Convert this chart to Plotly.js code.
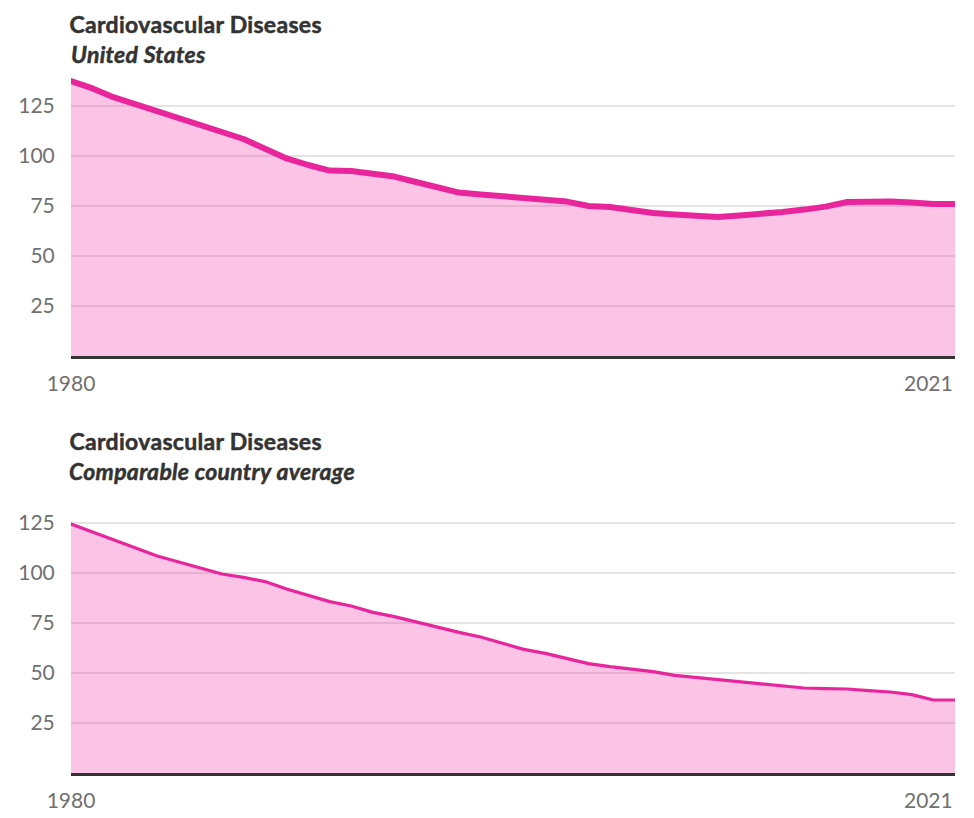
<!DOCTYPE html>
<html>
<head>
<meta charset="utf-8">
<script src="https://cdn.plot.ly/plotly-3.0.1.min.js"></script>
<style>
html,body{margin:0;padding:0;background:#fff;}
#chart{width:974px;height:818px;}
.scatterlayer path.js-line{stroke-linecap:round;stroke-linejoin:round;}
.annotation[data-index="0"] text,.annotation[data-index="1"] text,
.annotation[data-index="2"] text,.annotation[data-index="3"] text{stroke:#333;stroke-width:0.5px;letter-spacing:0.3px;}
</style>
</head>
<body>
<div id="chart"></div>
<script>
const years = [];
for (let y = 1980; y <= 2021; y++) years.push(y);

const usValues = [137.5, 133.8, 129.3, 125.7, 122.3, 118.8, 115.3, 112.0, 108.5, 103.8,
  98.8, 95.5, 92.7, 92.5, 91.0, 89.7, 87.0, 84.2, 81.7, 80.8,
  79.8, 78.6, 78.0, 77.2, 75.0, 74.5, 73.0, 71.5, 70.8, 70.3,
  69.5, 70.3, 71.0, 72.0, 73.2, 74.7, 77.0, 77.3, 77.2, 76.8,
  76.0, 76.0];

const compValues = [124.5, 120.7, 116.5, 112.5, 108.5, 105.5, 102.5, 99.5, 97.8, 95.7,
  92.0, 89.0, 85.7, 83.5, 80.3, 78.2, 75.5, 72.8, 70.3, 68.0,
  64.8, 61.8, 59.8, 57.3, 54.7, 53.2, 51.8, 50.7, 48.8, 47.8,
  46.7, 45.5, 44.5, 43.7, 42.5, 42.2, 42.0, 41.2, 40.5, 39.2,
  36.5, 36.5];

const yTicks = [25, 50, 75, 100, 125];
const chartTitle = "Cardiovascular Diseases";
const subTitles = ["United States", "Comparable country average"];
const xLabels = ["1980", "2021"];

const lineColor = "#e8259b";
const fillColor = "rgba(240,40,160,0.28)";
const font = "Lato, 'Open Sans', sans-serif";
const tickColor = "#707070";
const H = 818;
const py = px => (H - px) / H;

const traces = [
  {x: years, y: usValues, type: "scatter", mode: "lines", fill: "tozeroy",
   fillcolor: fillColor, line: {color: lineColor, width: 6}, xaxis: "x", yaxis: "y", hoverinfo: "x+y"},
  {x: years, y: compValues, type: "scatter", mode: "lines", fill: "tozeroy",
   fillcolor: fillColor, line: {color: lineColor, width: 3.2}, xaxis: "x2", yaxis: "y2", hoverinfo: "x+y"}
];

function xAxis(anchor) {
  return {anchor: anchor, domain: [71/974, 955/974], range: [1980, 2021],
    showgrid: false, zeroline: false, showline: true, linecolor: "#333", linewidth: 2.5,
    tickvals: [1980], ticktext: [xLabels[0]], ticks: "outside", ticklen: 7,
    tickcolor: "rgba(0,0,0,0)", tickfont: {family: font, size: 21, color: tickColor}, fixedrange: true};
}
function yAxis(anchor, range, dom) {
  return {anchor: anchor, domain: dom, range: range, tickvals: yTicks,
    showgrid: true, gridcolor: "#e4e4e4", gridwidth: 1.5, zeroline: false, showline: false,
    ticks: "outside", ticklen: 11, tickcolor: "rgba(0,0,0,0)",
    tickfont: {family: font, size: 21, color: tickColor}, fixedrange: true};
}

const tFont = {family: font, size: 23, color: "#333"};
const annotations = [
  {text: "<b>" + chartTitle + "</b>", x: 71/974, y: py(24), xref: "paper", yref: "paper", xanchor: "left", yanchor: "middle", showarrow: false, font: tFont},
  {text: "<b><i>" + subTitles[0] + "</i></b>", x: 71/974, y: py(54), xref: "paper", yref: "paper", xanchor: "left", yanchor: "middle", showarrow: false, font: tFont},
  {text: "<b>" + chartTitle + "</b>", x: 71/974, y: py(441), xref: "paper", yref: "paper", xanchor: "left", yanchor: "middle", showarrow: false, font: tFont},
  {text: "<b><i>" + subTitles[1] + "</i></b>", x: 71/974, y: py(471), xref: "paper", yref: "paper", xanchor: "left", yanchor: "middle", showarrow: false, font: tFont},
  {text: xLabels[1], x: 2021, xref: "x", y: py(382), yref: "paper", xanchor: "right", yanchor: "middle", showarrow: false, font: {family: font, size: 21, color: tickColor}},
  {text: xLabels[1], x: 2021, xref: "x2", y: py(799), yref: "paper", xanchor: "right", yanchor: "middle", showarrow: false, font: {family: font, size: 21, color: tickColor}}
];

const layout = {
  width: 974, height: 818,
  margin: {l: 0, r: 0, t: 0, b: 0},
  paper_bgcolor: "#fff", plot_bgcolor: "#fff",
  showlegend: false,
  xaxis: xAxis("y"),
  yaxis: yAxis("x", [0, 140], [py(356), py(76)]),
  xaxis2: xAxis("y2"),
  yaxis2: yAxis("x2", [0, 135], [py(773), py(503)]),
  annotations: annotations
};

Plotly.newPlot("chart", traces, layout, {displayModeBar: false, staticPlot: true});
</script>
</body>
</html>
